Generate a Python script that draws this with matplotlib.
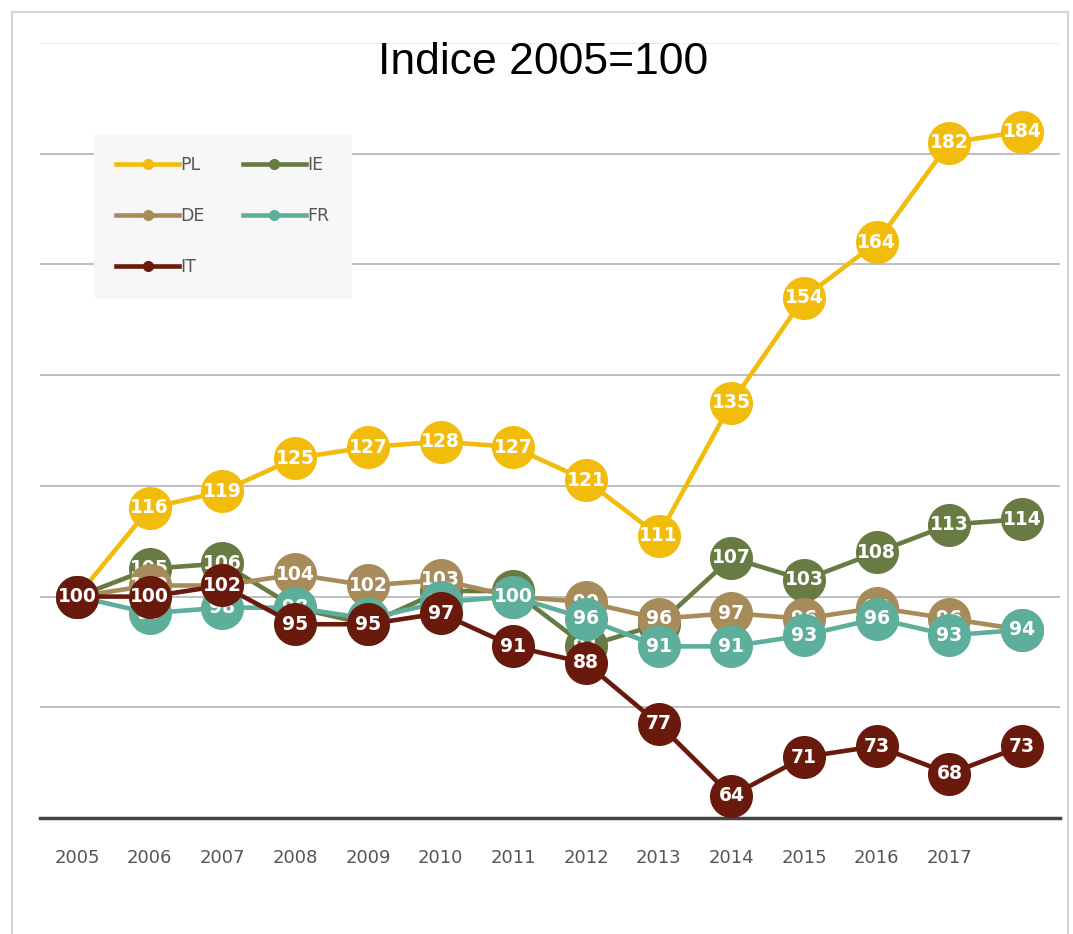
import matplotlib.pyplot as plt
from matplotlib.lines import Line2D

# index 2005 = 100
years = list(range(2005, 2019))
tick_years = list(range(2005, 2018))

pl = [100, 116, 119, 125, 127, 128, 127, 121, 111, 135, 154, 164, 182, 184]
ie = [100, 105, 106, 98, 95, 101, 101, 91, 95, 107, 103, 108, 113, 114]
de = [100, 102, 102, 104, 102, 103, 100, 99, 96, 97, 96, 98, 96, 94]
fr = [100, 97, 98, 98, 96, 99, 100, 96, 91, 91, 93, 96, 93, 94]
it = [100, 100, 102, 95, 95, 97, 91, 88, 77, 64, 71, 73, 68, 73]

series = [
    ("PL", pl, "#F2BC0C"),
    ("IE", ie, "#687B42"),
    ("DE", de, "#A88B5A"),
    ("FR", fr, "#5EAE9C"),
    ("IT", it, "#6A1A0D"),
]

fig = plt.figure(figsize=(10.73, 9.34), dpi=100)
ax = fig.add_axes([40 / 1073, 1 - 818 / 934, 1020 / 1073, (818 - 43) / 934])

# light frame around the picture
fig.add_artist(Line2D([12 / 1073, 1068 / 1073], [1 - 12 / 934, 1 - 12 / 934],
                      transform=fig.transFigure, color="#d4d4d4", lw=1.5))
fig.add_artist(Line2D([12 / 1073, 12 / 1073], [0, 1 - 12 / 934],
                      transform=fig.transFigure, color="#d4d4d4", lw=1.5))
fig.add_artist(Line2D([1068 / 1073, 1068 / 1073], [0, 1 - 12 / 934],
                      transform=fig.transFigure, color="#d4d4d4", lw=1.5))

ax.set_xlim(2004.49, 2018.52)
ax.set_ylim(60, 200)

for y in [80, 100, 120, 140, 160, 180]:
    ax.axhline(y, color="#adadad", lw=1.1, zorder=0)
ax.axhline(200, color="#e6e6e6", lw=1.1, zorder=0)

handles = {}
for i, (name, vals, col) in enumerate(series):
    ax.plot(years, vals, color=col, lw=3.3, marker="o", ms=31,
            markeredgewidth=0, zorder=2 + i * 2, solid_capstyle="round")
    for x, v in zip(years, vals):
        ax.text(x, v, str(v), color="white", fontsize=13.5, fontweight="bold",
                ha="center", va="center", zorder=3 + i * 2)
    handles[name] = Line2D([], [], color=col, lw=3.3, marker="o", ms=7)

for s in ["top", "right", "left"]:
    ax.spines[s].set_visible(False)
ax.spines["bottom"].set_color("#444444")
ax.spines["bottom"].set_linewidth(2.5)
ax.set_yticks([])
ax.set_xticks(tick_years)
ax.set_xticklabels([str(y) for y in tick_years], color="#555555", fontsize=13)
ax.tick_params(axis="x", length=0, pad=22)

order = ["PL", "DE", "IT", "IE", "FR"]
leg = fig.legend([handles[n] for n in order], order, ncol=2,
                 loc="upper left", bbox_to_anchor=(85 / 1073, 1 - 125 / 934),
                 frameon=True, fontsize=12.5, handlelength=3.6,
                 columnspacing=2.2, labelspacing=1.9, borderpad=1.3,
                 handletextpad=0.1, labelcolor="#555555")
leg.get_frame().set_facecolor("#f7f7f7")
leg.get_frame().set_edgecolor("none")
leg.get_frame().set_alpha(1)

fig.text(543 / 1073, 1 - 62 / 934, "Indice 2005=100", ha="center", va="center",
         fontsize=32, family="Liberation Sans", color="black")

fig.savefig("out.png", dpi=100, facecolor="white")
